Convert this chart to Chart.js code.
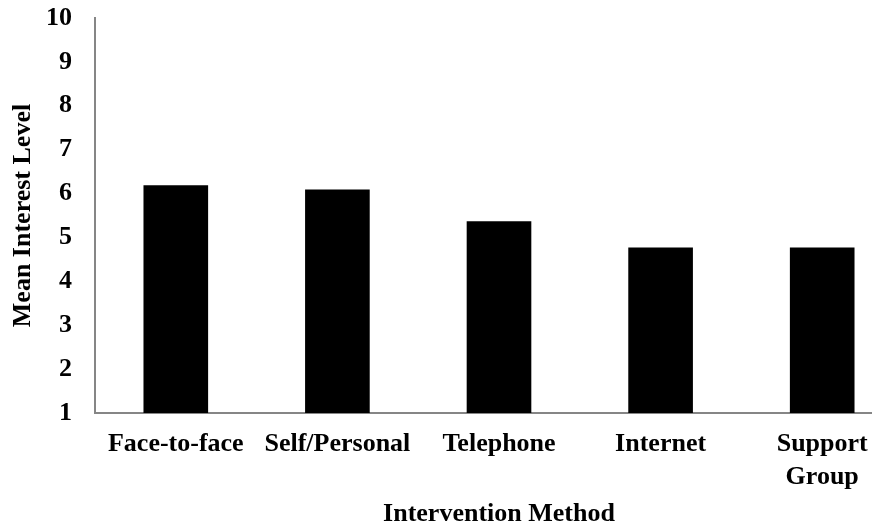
<!DOCTYPE html>
<html>
<head>
<meta charset="utf-8">
<script src="https://cdn.jsdelivr.net/npm/chart.js@4/dist/chart.umd.min.js"></script>
<style>
  html, body { margin: 0; padding: 0; background: #fff; overflow: hidden; }
  #wrap { width: 904px; height: 527px; }
</style>
</head>
<body>
<div id="wrap"><canvas id="interestCanvas" width="904" height="527"></canvas></div>
<script>
var methods = [
  "Face-to-face",
  "Self/Personal",
  "Telephone",
  "Internet",
  ["Support", "Group"]
];

var meanInterest = [6.19, 6.09, 5.37, 4.77, 4.77];

var yTicks = [1, 2, 3, 4, 5, 6, 7, 8, 9, 10];

var serif = "'Liberation Serif', 'Times New Roman', serif";
var axisGrey = "#868686";

var context = document.getElementById("interestCanvas");

new Chart(context, {
  type: 'bar',
  data: {
    labels: methods,
    datasets: [{
      label: "Mean Interest Level",
      backgroundColor: "#000000",
      borderWidth: 0,
      barPercentage: 0.4,
      categoryPercentage: 1.0,
      data: meanInterest
    }]
  },
  options: {
    responsive: false,
    animation: false,
    layout: {
      padding: { top: 18, right: 1, bottom: 0, left: 0 }
    },
    plugins: {
      legend: { display: false },
      tooltip: { enabled: false }
    },
    scales: {
      x: {
        grid: { display: false, drawTicks: false, tickLength: 0 },
        border: { display: true, color: axisGrey, width: 2 },
        ticks: {
          color: "#000",
          padding: 15,
          maxRotation: 0,
          autoSkip: false,
          font: { family: serif, size: 26, weight: 'bold', lineHeight: 1.27 }
        },
        title: {
          display: true,
          text: "Intervention Method",
          color: "#000",
          padding: { top: 0, bottom: 0 },
          font: { family: serif, size: 26, weight: 'bold', lineHeight: 1 }
        },
        afterFit: function (scale) { scale.height = 114; }
      },
      y: {
        min: yTicks[0],
        max: yTicks[yTicks.length - 1],
        // gap between labels and axis comes from an invisible tick length
        grid: { display: false, drawTicks: true, tickLength: 23 },
        border: { display: true, color: axisGrey, width: 2 },
        afterBuildTicks: function (scale) {
          scale.ticks = yTicks.map(function (v) { return { value: v }; });
        },
        ticks: {
          color: "#000",
          padding: 0,
          font: { family: serif, size: 26, weight: 'bold' }
        },
        title: {
          display: true,
          text: "Mean Interest Level",
          color: "#000",
          padding: { top: 8, bottom: 0 },
          font: { family: serif, size: 26, weight: 'bold' }
        },
        afterFit: function (scale) { scale.width = 95; }
      }
    }
  }
});
</script>
</body>
</html>
